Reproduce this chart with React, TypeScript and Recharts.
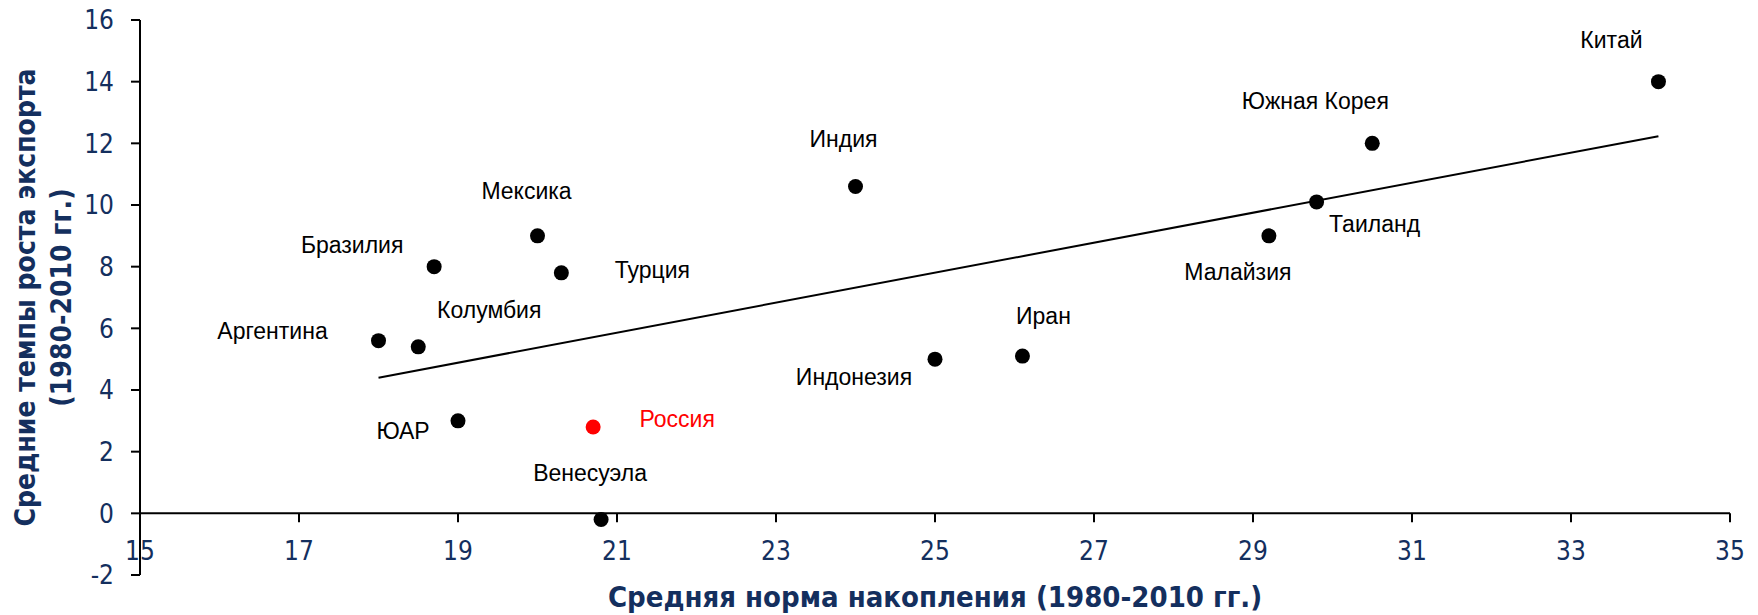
import React from "react";
import { ScatterChart, Scatter, XAxis, YAxis, ReferenceLine } from "recharts";

const countries = ["Аргентина", "Колумбия", "Бразилия", "ЮАР", "Мексика", "Турция", "Россия", "Венесуэла", "Индия", "Индонезия", "Иран", "Малайзия", "Таиланд", "Южная Корея", "Китай"];
const savingsRate = [18.0, 18.5, 18.7, 19.0, 20.0, 20.3, 20.7, 20.8, 24.0, 25.0, 26.1, 29.2, 29.8, 30.5, 34.1];
const exportGrowth = [5.6, 5.4, 8.0, 3.0, 9.0, 7.8, 2.8, -0.2, 10.6, 5.0, 5.1, 9.0, 10.1, 12.0, 14.0];
const xTicks = [15, 17, 19, 21, 23, 25, 27, 29, 31, 33, 35];
const yTicks = [-2, 0, 2, 4, 6, 8, 10, 12, 14, 16];
const trendX = [18.0, 34.1];
const trendY = [4.4, 12.23];
const highlighted = "Россия";

const xTitle = "Средняя норма накопления (1980-2010 гг.)";
const yTitle1 = "Средние темпы роста экспорта";
const yTitle2 = "(1980-2010 гг.)";

// label placement (px offset from point to label centre)
const labelOffsets: Record<string, [number, number]> = {
  "Аргентина": [-106, -10],
  "Колумбия": [71, -37],
  "Бразилия": [-82, -22],
  "ЮАР": [-55, 10],
  "Мексика": [-11, -45],
  "Турция": [91, -3],
  "Россия": [84, -8],
  "Венесуэла": [-11, -47],
  "Индия": [-12, -48],
  "Индонезия": [-81, 18],
  "Иран": [21, -40],
  "Малайзия": [-31, 36],
  "Таиланд": [58, 22],
  "Южная Корея": [-57, -43],
  "Китай": [-47, -42],
};

const W = 1758;
const H = 615;
const M = { top: 20, right: 28, bottom: 0, left: 0 };
const Y_AXIS_W = 140;
const X_AXIS_H = 40;
const PLOT_TOP = M.top;
const PLOT_BOTTOM = H - M.bottom - X_AXIS_H;
const Y_MIN = -2;
const Y_MAX = 16;
const ZERO_Y = PLOT_TOP + ((Y_MAX - 0) / (Y_MAX - Y_MIN)) * (PLOT_BOTTOM - PLOT_TOP);

const NAVY = "#142F5E";
const AXIS_FONT = "'DejaVu Sans Condensed', 'DejaVu Sans', sans-serif";
const LABEL_FONT = "'Liberation Sans', Arial, sans-serif";

const points = countries.map((name, i) => ({ name, x: savingsRate[i], y: exportGrowth[i] }));

const XTick = (props: any) => {
  const { x, payload } = props;
  return (
    <g>
      <line x1={x} x2={x} y1={ZERO_Y} y2={ZERO_Y + 9} stroke="#000" strokeWidth={2} />
      <text x={x} y={ZERO_Y + 47} textAnchor="middle" fill={NAVY} fontSize={26} fontFamily={AXIS_FONT}>
        {payload.value}
      </text>
    </g>
  );
};

const PointShape = (props: any) => {
  const { cx, cy, payload } = props;
  const off = labelOffsets[payload.name] || [0, -30];
  const isHi = payload.name === highlighted;
  const color = isHi ? "#FF0000" : "#000000";
  return (
    <g>
      <circle cx={cx} cy={cy} r={7.5} fill={color} />
      <text
        x={cx + off[0]}
        y={cy + off[1] + 8.2}
        textAnchor="middle"
        fill={color}
        fontSize={23}
        fontFamily={LABEL_FONT}
      >
        {payload.name}
      </text>
    </g>
  );
};

const YTitle = (props: any) => {
  const vb = props.viewBox || { x: 0, y: PLOT_TOP, width: Y_AXIS_W, height: PLOT_BOTTOM - PLOT_TOP };
  const cy = vb.y + vb.height / 2;
  const x1 = 25;
  const x2 = 61;
  const common = {
    textAnchor: "middle" as const,
    dominantBaseline: "central" as const,
    fill: NAVY,
    fontSize: 28,
    fontWeight: "bold" as const,
    fontFamily: AXIS_FONT,
  };
  return (
    <g>
      <text x={x1} y={cy} transform={`rotate(-90, ${x1}, ${cy})`} {...common}>
        {yTitle1}
      </text>
      <text x={x2} y={cy} transform={`rotate(-90, ${x2}, ${cy})`} {...common}>
        {yTitle2}
      </text>
    </g>
  );
};

const XTitle = (props: any) => {
  const vb = props.viewBox || { x: Y_AXIS_W, width: W - Y_AXIS_W - M.right };
  const cx = vb.x + vb.width / 2;
  return (
    <text
      x={cx}
      y={607}
      textAnchor="middle"
      fill={NAVY}
      fontSize={29}
      fontWeight="bold"
      fontFamily={AXIS_FONT}
    >
      {xTitle}
    </text>
  );
};

export default function App() {
  return (
    <div style={{ width: W, height: H }}>
      <style>{`body{margin:0;background:#fff}`}</style>
      <ScatterChart width={W} height={H} margin={M}>
        <XAxis
          type="number"
          dataKey="x"
          domain={[15, 35]}
          ticks={xTicks}
          interval={0}
          axisLine={false}
          tickLine={false}
          height={X_AXIS_H}
          tick={<XTick />}
          allowDataOverflow
          label={{ content: <XTitle /> }}
        />
        <YAxis
          type="number"
          dataKey="y"
          domain={[Y_MIN, Y_MAX]}
          ticks={yTicks}
          interval={0}
          width={Y_AXIS_W}
          axisLine={{ stroke: "#000", strokeWidth: 2 }}
          tickLine={{ stroke: "#000", strokeWidth: 2 }}
          tickSize={9}
          tickMargin={17}
          tick={{ fill: NAVY, fontSize: 26, fontFamily: AXIS_FONT }}
          allowDataOverflow
          label={{ content: <YTitle /> }}
        />
        <ReferenceLine y={0} stroke="#000" strokeWidth={2} />
        <ReferenceLine
          segment={[
            { x: trendX[0], y: trendY[0] },
            { x: trendX[1], y: trendY[1] },
          ]}
          stroke="#000"
          strokeWidth={2}
        />
        <Scatter data={points} shape={<PointShape />} isAnimationActive={false} />
      </ScatterChart>
    </div>
  );
}
